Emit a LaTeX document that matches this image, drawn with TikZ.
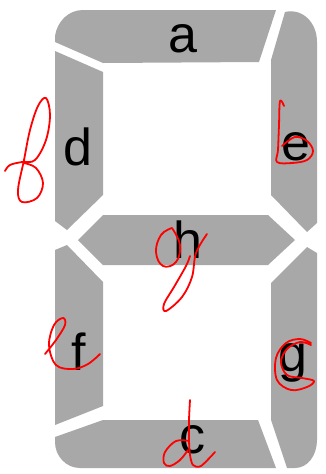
\documentclass[tikz,border=0pt]{standalone}
\usepackage{fontspec}
\setmainfont{Liberation Sans}
\definecolor{seg}{RGB}{168,168,168}
\begin{document}
\begin{tikzpicture}[x=1pt,y=-1pt,
  segment/.style={fill=seg, draw=none},
  lbl/.style={anchor=base, inner sep=0pt, text=black, font=\fontsize{52}{60}\selectfont},
  pen/.style={draw=red, line width=1.8pt, line cap=round, line join=round}]
\useasboundingbox[fill=white] (0,0) rectangle (326,474);
% segments
\fill[segment] (55,42) -- (55,36) .. controls (57,22) and (68,10) .. (83,10) -- (276,10) -- (259,62) -- (103,63) -- cycle; % a
\fill[segment] (55,51) -- (103,72) -- (103,195) -- (67,230) -- (55,221) -- cycle; % d
\fill[segment] (271,195) -- (271,60) -- (285,12) .. controls (302,8) and (317,22) .. (317,42) -- (317,223) -- (307,232) -- cycle; % e
\fill[segment] (78,240) -- (103,215) -- (268,215) -- (295,240) -- (268,265) -- (103,265) -- cycle; % h
\fill[segment] (55,250) -- (67,245) -- (103,282) -- (103,406) -- (55,425) -- cycle; % f
\fill[segment] (271,283) -- (307,247) -- (317,253) -- (317,440) .. controls (317,455) and (308,468) .. (295,468) -- (287,468) -- (271,420) -- cycle; % g
\fill[segment] (55,437) -- (103,420) -- (258,420) -- (276,468) -- (80,468) .. controls (66,468) and (55,456) .. (55,442) -- cycle; % c
% labels
\node[lbl] (la) at (183,52) {a};
\node[lbl] (ld) at (78,165) {d};
\node[lbl] (le) at (296,160) {e};
\node[lbl] (lh) at (188,258) {h};
\node[lbl] (lf) at (79,370) {f};
\node[lbl] (lg) at (293,371) {g};
\node[lbl] (lc) at (192,453) {c};
% red handwriting
\draw[pen] plot[smooth, tension=0.6] coordinates {(5,171) (10,165) (22,162) (35,160) (46,140) (50,115) (46,98) (38,106) (30,130) (24,160) (18,190) (22,202) (37,198) (43,183) (36,168) (24,163)};
\draw[pen] plot[smooth, tension=0.6] coordinates {(284,106) (280,101) (279,125) (278,150) (277,162) (292,163) (307,160) (313,151) (307,141) (295,137) (282,146)};
\draw[pen] plot[smooth, tension=0.7] coordinates {(172,228) (161,235) (156,252) (163,266) (176,262) (180,245) (172,228)};
\draw[pen] plot[smooth, tension=0.6] coordinates {(207,234) (196,253) (192,277) (182,297) (166,311) (164,304) (174,287) (186,266) (190,256)};
\draw[pen] plot[smooth, tension=0.6] coordinates {(45,354) (56,340) (65,325) (63,318) (54,325) (49,345) (56,365) (73,369) (88,364) (100,354)};
\draw[pen] plot[smooth, tension=0.6] coordinates {(311,343) (300,339) (286,343) (276,358) (277,380) (291,390) (307,387) (314,381) (302,378) (287,375) (281,362) (287,349) (300,342) (311,345)};
\draw[pen] plot[smooth, tension=0.5] coordinates {(190,400) (189,420) (189,440) (190,455) (193,465) (201,466) (215,452)};
\draw[pen] plot[smooth, tension=0.6] coordinates {(189,441) (176,441) (165,452) (164,463) (170,466) (180,460) (188,450)};
\end{tikzpicture}
\end{document}
